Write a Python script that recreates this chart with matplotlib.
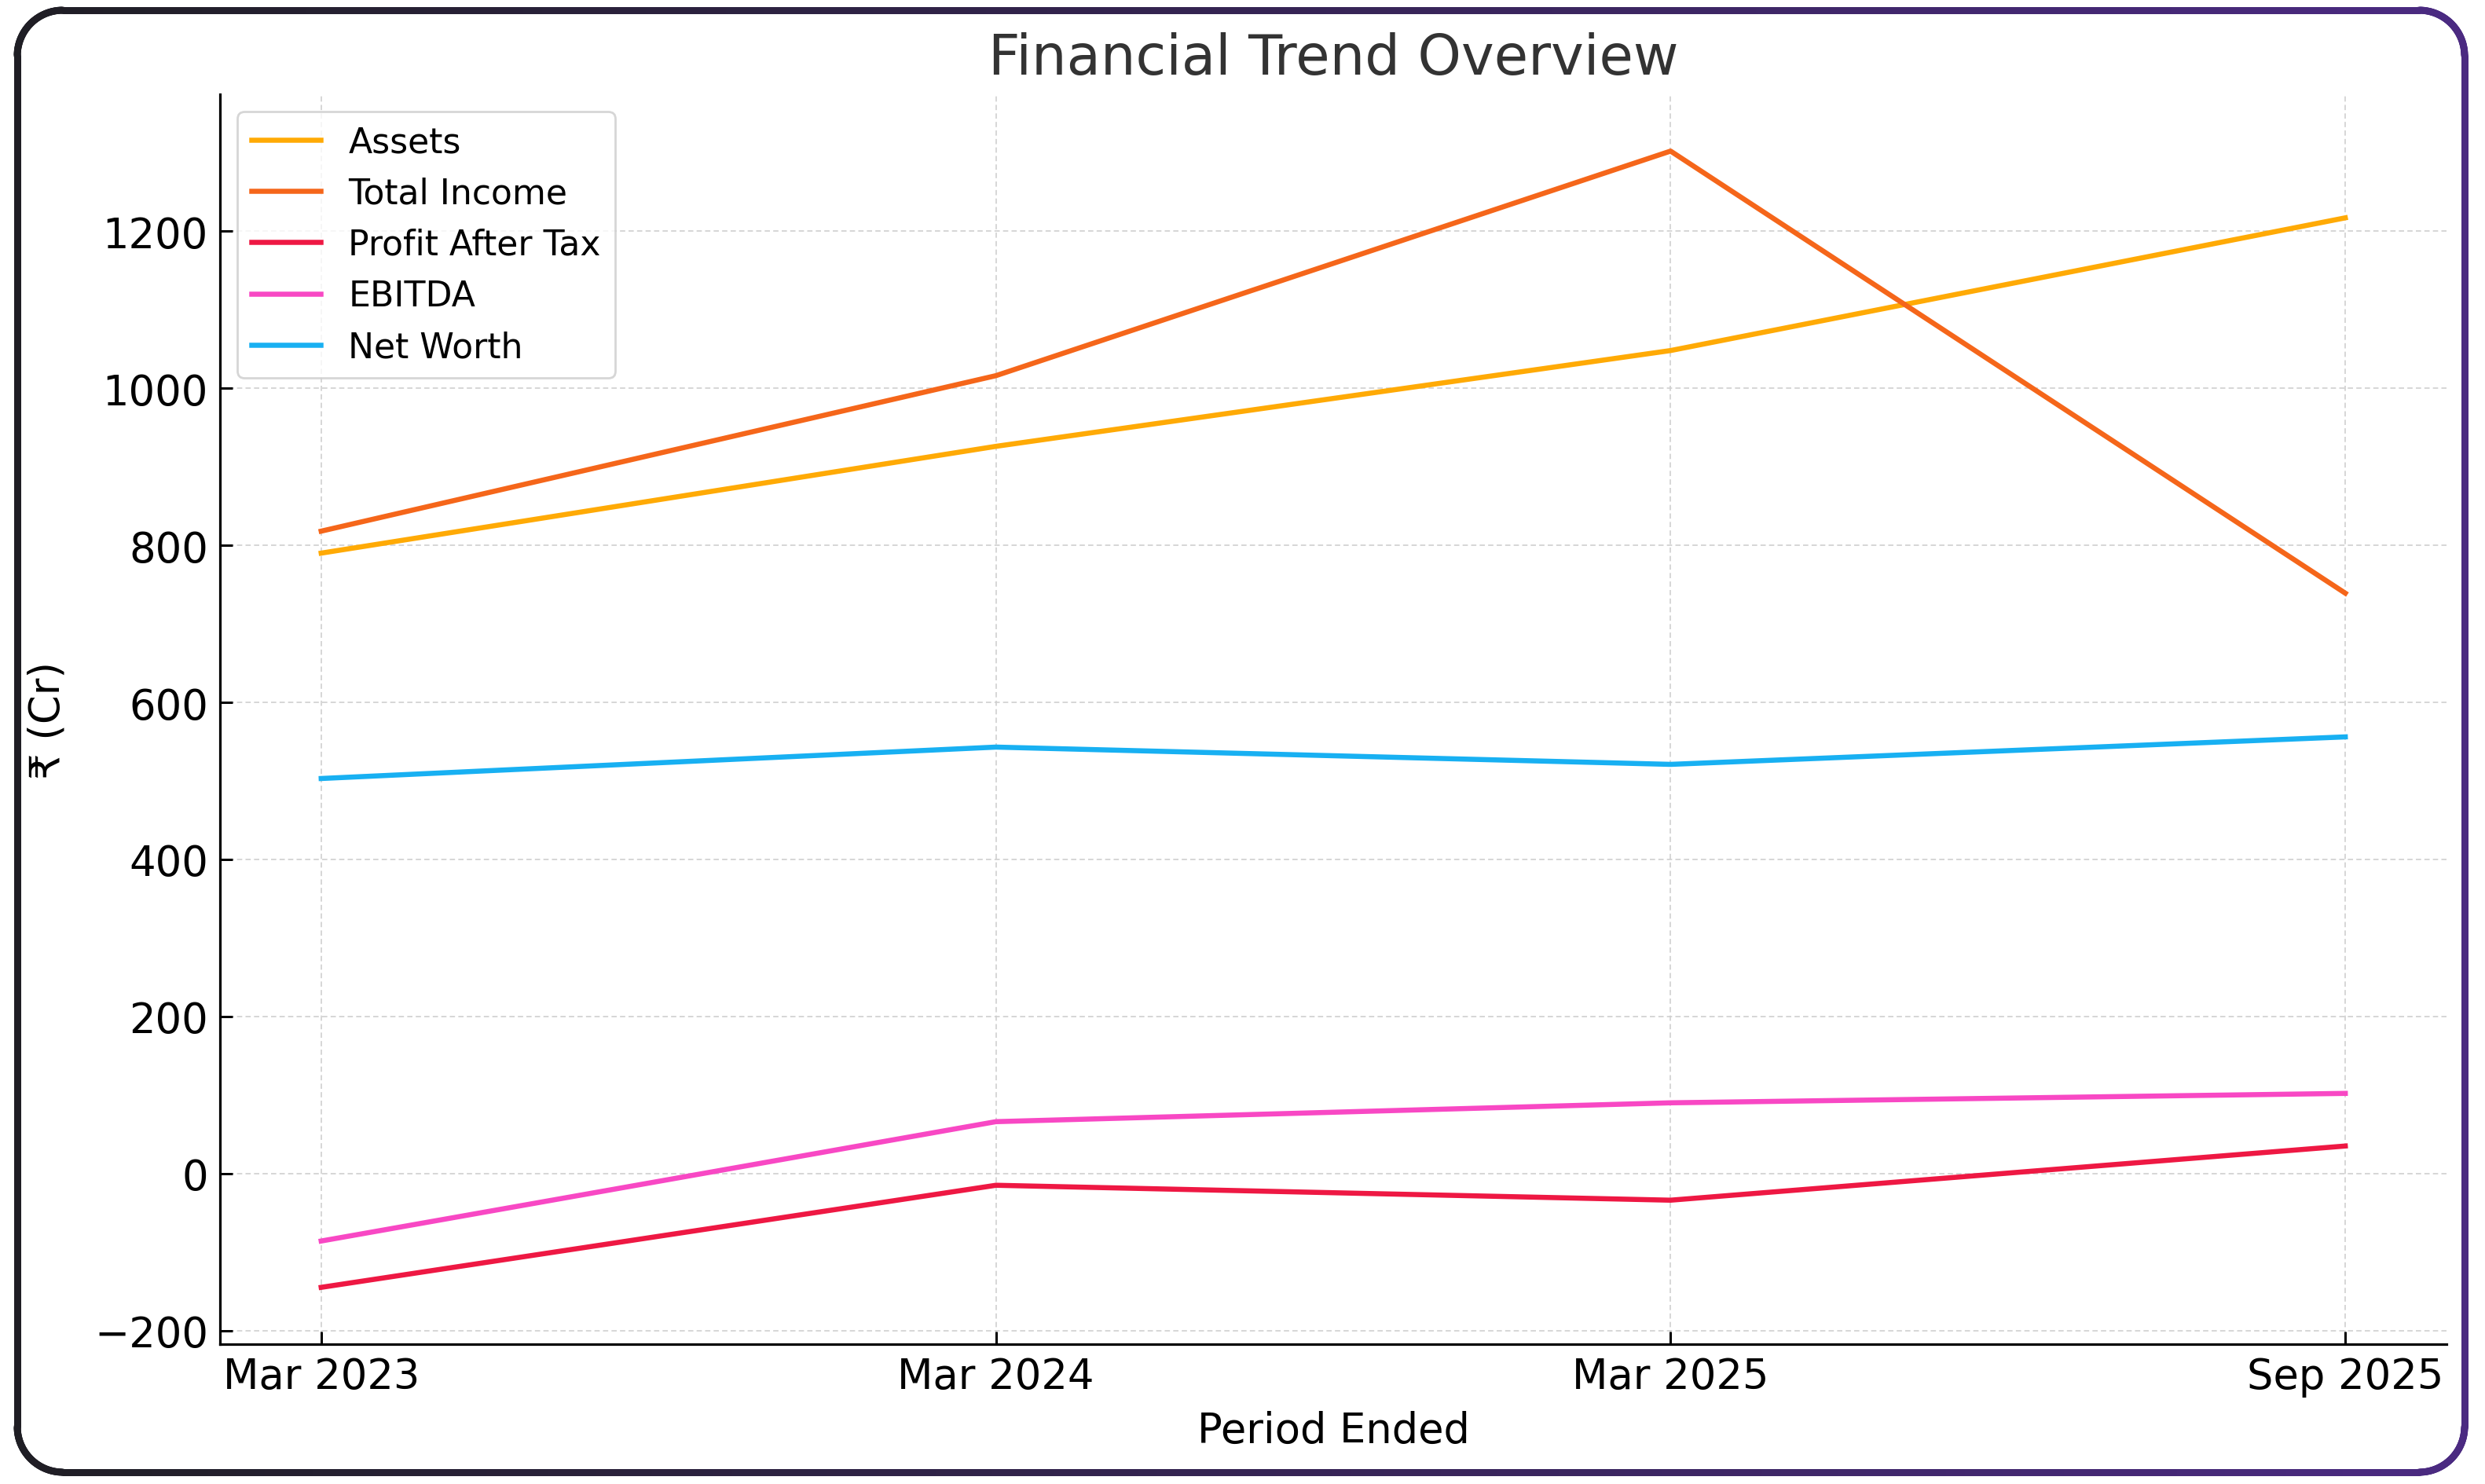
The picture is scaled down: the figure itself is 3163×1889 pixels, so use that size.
import numpy as np
import matplotlib
matplotlib.use("Agg")
import matplotlib.pyplot as plt
from matplotlib.collections import LineCollection
from matplotlib.colors import LinearSegmentedColormap

# ── data (₹ Cr) ───────────────────────────────────────────────────────────────
PERIODS          = ["Mar 2023", "Mar 2024", "Mar 2025", "Sep 2025"]
ASSETS           = [790, 926, 1048, 1217]
TOTAL_INCOME     = [818, 1016, 1302, 739]
PROFIT_AFTER_TAX = [-145, -15, -34, 35]
EBITDA           = [-86, 66, 90, 102]
NET_WORTH        = [503, 543, 521, 556]

SERIES = [
    ("Assets",           ASSETS,           "#FFAA05"),
    ("Total Income",     TOTAL_INCOME,     "#F5661A"),
    ("Profit After Tax", PROFIT_AFTER_TAX, "#EE1843"),
    ("EBITDA",           EBITDA,           "#F848C4"),
    ("Net Worth",        NET_WORTH,        "#18B0F2"),
]

# ── figure ────────────────────────────────────────────────────────────────────
W, H, DPI = 3163, 1890, 200
PX = 72 / DPI  # points per pixel

fig = plt.figure(figsize=(W / DPI, H / DPI), dpi=DPI, facecolor="white")
ax = fig.add_axes([280 / W, 1 - 1712 / H, (3114 - 280) / W, (1712 - 121) / H])

for label, values, color in SERIES:
    ax.plot(PERIODS, values, color=color, linewidth=6.5 * PX, label=label)

ax.set_title("Financial Trend Overview", fontsize=25.4, color="#333333", pad=26 * PX)
ax.set_xlabel("Period Ended", fontsize=19, labelpad=6)
ax.set_ylabel("₹ (Cr)", fontsize=19, labelpad=12)

ax.tick_params(axis="both", which="major", labelsize=19, direction="in",
               length=16 * PX, width=3 * PX, pad=15 * PX)
for side in ("top", "right"):
    ax.spines[side].set_visible(False)
for side in ("left", "bottom"):
    ax.spines[side].set_linewidth(3.2 * PX)
    ax.spines[side].set_color("black")

ax.grid(True, linestyle=(0, (4, 2.5)), color="#cfcfcf", linewidth=0.6)
ax.set_axisbelow(True)

ax.legend(loc="upper left", fontsize=15.9, frameon=True, edgecolor="#cccccc")

# ── rounded gradient frame ────────────────────────────────────────────────────
bx = fig.add_axes([0, 0, 1, 1], zorder=-1)
bx.set_xlim(0, W)
bx.set_ylim(H, 0)
bx.axis("off")

x0, y0, x1, y1, r = 22, 14, 3137, 1875, 58
arcs = [((x0 + r, y0 + r), 180, 270), ((x1 - r, y0 + r), 270, 360),
        ((x1 - r, y1 - r), 0, 90), ((x0 + r, y1 - r), 90, 180)]
pts = []
for (cx, cy), a0, a1 in arcs:
    t = np.radians(np.linspace(a0, a1, 30))
    pts.extend(zip(cx + r * np.cos(t), cy + r * np.sin(t)))
pts.append(pts[0])

dense = []
for (ax0, ay0), (ax1, ay1) in zip(pts[:-1], pts[1:]):
    n = max(2, int(np.hypot(ax1 - ax0, ay1 - ay0) / 6))
    for k in range(n):
        f = k / n
        dense.append((ax0 + f * (ax1 - ax0), ay0 + f * (ay1 - ay0)))
dense.append(pts[0])
dense = np.array(dense)
segs = np.stack([dense[:-1], dense[1:]], axis=1)

cmap = LinearSegmentedColormap.from_list("frame", ["#1f1e24", "#4b2a82"])
xmid = segs[:, :, 0].mean(axis=1) / W
lc = LineCollection(segs, colors=cmap(xmid), linewidths=9 * PX, capstyle="round")
bx.add_collection(lc)

fig.savefig("out.png", dpi=DPI, facecolor="white")
